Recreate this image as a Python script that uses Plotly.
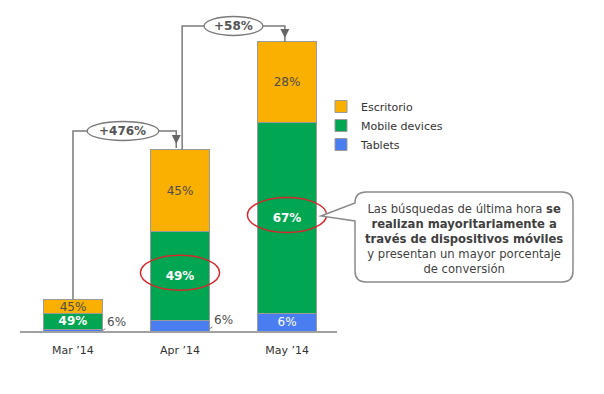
import plotly.graph_objects as go

# the page body adds an 8px margin around the figure
OFF = 8
PAGE_W, PAGE_H = 604, 394
W, H = PAGE_W - OFF, PAGE_H - OFF

# ---- data ----
months = ["Mar ’14", "Apr ’14", "May ’14"]
total_index = [100, 576, 910]          # relative search volume (Mar = 100)
pct_escritorio = [45, 45, 28]
pct_mobile = [49, 49, 67]
pct_tablets = [6, 6, 6]
growth_labels = ["+476%", "+58%"]
series_names = ["Escritorio", "Mobile devices", "Tablets"]

C_ESC = "#F9B000"
C_MOB = "#00A651"
C_TAB = "#4A7DF0"
EDGE = "#9a9a9a"
GRAY = "#7a7a7a"
TXT = "#4d4d4d"
FONT = "DejaVu Sans"

xs = list(range(len(months)))
seg_tab = [t * p / 100 for t, p in zip(total_index, pct_tablets)]
seg_mob = [t * p / 100 for t, p in zip(total_index, pct_mobile)]
seg_esc = [t * p / 100 for t, p in zip(total_index, pct_escritorio)]

# page pixel -> paper helpers
def px(x):
    return (x - OFF) / W

def py(y):
    return 1 - (y - OFF) / H

BASE = 331
X_DOM = (px(20), px(337))
Y_DOM = (py(BASE), 1.0)
PX_PER_UNIT = 0.3145
Y_MAX = (BASE - OFF) / PX_PER_UNIT
X_RANGE = [-0.495, 2.467]

fig = go.Figure()

tab_text = ["", "", "6%"]
fig.add_trace(go.Bar(
    x=xs, y=seg_tab, name=series_names[2], marker=dict(color=C_TAB, line=dict(color=EDGE, width=1)),
    text=tab_text, textposition="inside", insidetextanchor="middle",
    textfont=dict(color="white", size=12, family=FONT), width=0.55, hoverinfo="skip"))
fig.add_trace(go.Bar(
    x=xs, y=seg_mob, name=series_names[1], marker=dict(color=C_MOB, line=dict(color=EDGE, width=1)),
    text=[f"<b>{p}%</b>" for p in pct_mobile], textposition="inside", insidetextanchor="middle",
    textfont=dict(color="white", size=12, family=FONT), width=0.55, hoverinfo="skip"))
fig.add_trace(go.Bar(
    x=xs, y=seg_esc, name=series_names[0], marker=dict(color=C_ESC, line=dict(color=EDGE, width=1)),
    text=[f"{p}%" for p in pct_escritorio], textposition="inside", insidetextanchor="middle",
    textfont=dict(color=TXT, size=12, family=FONT), width=0.55, hoverinfo="skip"))

shapes = []
annotations = []

# outside "6%" labels for Mar and Apr tablets
for i in (0, 1):
    annotations.append(dict(
        x=i + 0.275, y=seg_tab[i] * 0.2, xref="x", yref="y", text=f"{pct_tablets[i]}%",
        showarrow=True, arrowhead=0, arrowwidth=1, arrowcolor=GRAY, ax=14, ay=-9,
        standoff=0, font=dict(family=FONT, size=12, color=TXT)))

def y_of(pixel_y):
    return (BASE - pixel_y) / PX_PER_UNIT

conn = [
    # (start x, start y, level pixel y, end x, tip pixel y, label center x, label rx)
    (0.0, total_index[0], 131, 0.965, 144, 0.467, 0.335),
    (1.02, total_index[1], 26, 1.98, 38, 1.50, 0.275),
]
for k, (x0, y0, lev, x1, tip, lx, rx) in enumerate(conn):
    yl = y_of(lev)
    shapes.append(dict(type="path", xref="x", yref="y",
                       path=f"M {x0},{y0} L {x0},{yl} L {x1},{yl} L {x1},{y_of(tip + 4)}",
                       line=dict(color=GRAY, width=1.5), layer="above"))
    annotations.append(dict(x=x1, y=y_of(tip), ax=x1, ay=y_of(tip - 8), xref="x", yref="y",
                            axref="x", ayref="y", text="", showarrow=True, arrowhead=2,
                            arrowsize=1.2, arrowwidth=1.5, arrowcolor="#666666"))
    ry = 9.5 / PX_PER_UNIT
    shapes.append(dict(type="circle", xref="x", yref="y", x0=lx - rx, x1=lx + rx,
                       y0=yl - ry, y1=yl + ry, fillcolor="white",
                       line=dict(color=GRAY, width=1.3), layer="above"))
    annotations.append(dict(x=lx, y=yl, xref="x", yref="y", text=f"<b>{growth_labels[k]}</b>",
                            showarrow=False, font=dict(family=FONT, size=12, color="#555555")))

# red ellipses around mobile labels (Apr, May)
for i in (1, 2):
    yc = seg_tab[i] + seg_mob[i] / 2 + 3 / PX_PER_UNIT
    shapes.append(dict(type="circle", xref="x", yref="y", x0=i - 0.37, x1=i + 0.37,
                       y0=yc - 17.5 / PX_PER_UNIT, y1=yc + 17.5 / PX_PER_UNIT,
                       line=dict(color="#D8262B", width=1.5), layer="above"))

# callout bubble
L, R, T, B, r = 355, 573, 192, 282, 11
pts = [
    f"M {px(L + r)},{py(T)}",
    f"L {px(R - r)},{py(T)}",
    f"Q {px(R)},{py(T)} {px(R)},{py(T + r)}",
    f"L {px(R)},{py(B - r)}",
    f"Q {px(R)},{py(B)} {px(R - r)},{py(B)}",
    f"L {px(L + r)},{py(B)}",
    f"Q {px(L)},{py(B)} {px(L)},{py(B - r)}",
    f"L {px(L)},{py(221)}",
    f"L {px(321)},{py(216)}",
    f"L {px(L)},{py(203)}",
    f"L {px(L)},{py(T + r)}",
    f"Q {px(L)},{py(T)} {px(L + r)},{py(T)} Z",
]
shapes.append(dict(type="path", xref="paper", yref="paper", path=" ".join(pts),
                   fillcolor="white", line=dict(color="#8a8a8a", width=1.5), layer="above"))
annotations.append(dict(
    x=px(464), y=py(239), xref="paper", yref="paper", xanchor="center", yanchor="middle",
    showarrow=False, align="center",
    text=("Las búsquedas de última hora <b>se</b><br><b>realizan mayoritariamente a</b><br>"
          "<b>través de dispositivos móviles</b><br>y presentan un mayor porcentaje<br>de conversión"),
    font=dict(family=FONT, size=11.6, color="#3f3f3f")))

fig.update_layout(
    width=W, height=H, margin=dict(l=0, r=0, t=0, b=0),
    paper_bgcolor="white", plot_bgcolor="white",
    barmode="stack", bargap=0.45,
    font=dict(family=FONT, color="#333333"),
    showlegend=True,
    legend=dict(x=px(321), y=py(92), xanchor="left", yanchor="top", traceorder="reversed",
                font=dict(family=FONT, size=11, color="#333333"), bgcolor="rgba(0,0,0,0)",
                itemwidth=30, tracegroupgap=0),
    uniformtext=dict(minsize=12, mode="show"),
    shapes=shapes, annotations=annotations,
    xaxis=dict(domain=list(X_DOM), range=X_RANGE, tickvals=xs, ticktext=months,
               showline=True, linecolor="#a0a0a0", linewidth=2, showgrid=False, zeroline=False,
               ticks="", tickfont=dict(family=FONT, size=11, color="#333333"), ticklabelstandoff=8),
    yaxis=dict(domain=list(Y_DOM), range=[0, Y_MAX], visible=False, showgrid=False, zeroline=False),
)

fig.write_html("out.html")
